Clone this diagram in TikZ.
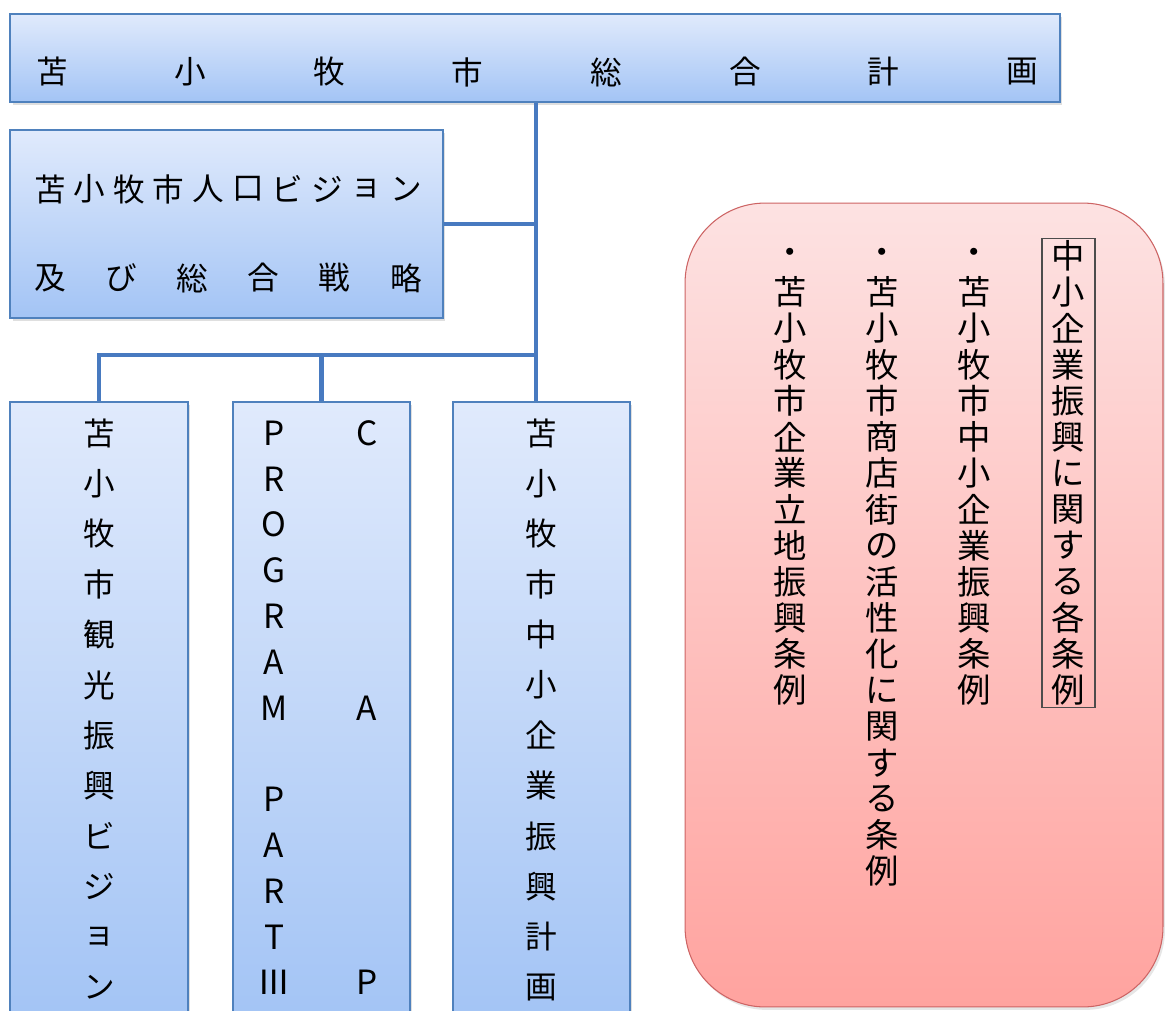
\documentclass[tikz,border=0pt]{standalone}
\usepackage{fontspec}
\setmainfont{Noto Sans CJK JP}
\usetikzlibrary{shadows}
\definecolor{boxTop}{RGB}{224,234,252}
\definecolor{boxBot}{RGB}{163,196,245}
\definecolor{boxLine}{RGB}{79,129,189}
\definecolor{linkBlue}{RGB}{72,122,192}
\definecolor{pinkTop}{RGB}{253,226,226}
\definecolor{pinkBot}{RGB}{255,163,159}
\definecolor{pinkLine}{RGB}{205,100,100}
\begin{document}
\begin{tikzpicture}[x=0.02cm, y=-0.02cm,
    bluebox/.style={draw=boxLine, line width=0.8pt, top color=boxTop, bottom color=boxBot,
      inner sep=0pt, drop shadow={opacity=0.25, shadow xshift=0.5mm, shadow yshift=-0.6mm}},
    redbox/.style={draw=pinkLine, line width=0.6pt, top color=pinkTop, bottom color=pinkBot,
      rounded corners=1.6cm, inner sep=0pt, drop shadow={opacity=0.2, shadow xshift=0.4mm, shadow yshift=-0.6mm}},
    titlebox/.style={draw=black!70, line width=0.6pt, inner sep=0pt},
    link/.style={draw=linkBlue, line width=2.8pt},
    glyph/.style={inner sep=0pt, font=\fontsize{18}{18}\selectfont},
    bigglyph/.style={inner sep=0pt, font=\fontsize{19}{19}\selectfont},
    latin/.style={inner sep=0pt, font=\fontsize{19}{19}\selectfont}]
  \useasboundingbox (0,0) rectangle (1165,1010);
  \clip (0,0) rectangle (1165,1010);
  \newcommand{\spreadText}[7]{
    % places one character after the other
    % args:
    %     style
    %     name prefix
    %     x, y of the first character (px)
    %     step in x, step in y (px)
    %     list of characters
    \foreach \ch [count=\k from 0] in {#7} {
      \node[#1] (#2_\k) at (#3 + \k*#5, #4 + \k*#6) {\ch};
    }
  }
  %
  % boxes
  \node[bluebox, minimum width=21cm, minimum height=1.76cm] (plan) at (535,58) {};
  \node[bluebox, minimum width=8.66cm, minimum height=3.76cm] (vision) at (226.5,224) {};
  \node[bluebox, minimum width=3.56cm, minimum height=12.36cm] (tour) at (99,711) {};
  \node[bluebox, minimum width=3.54cm, minimum height=12.36cm] (cap) at (321.5,711) {};
  \node[bluebox, minimum width=3.54cm, minimum height=12.36cm] (smb) at (541.5,711) {};
  \node[redbox, minimum width=9.56cm, minimum height=16.08cm] (jorei) at (924,605) {};
  \node[titlebox, minimum width=1.06cm, minimum height=9.4cm] (joreiTitle) at (1068.5,473) {};
  %
  % connectors
  \coordinate (bus) at (536,355);
  \draw[link] (bus |- plan.south) -- (bus |- smb.north);
  \draw[link] (vision.east) -- (vision.east -| bus);
  \draw[link] (bus) -| (tour.north);
  \draw[link] (bus -| cap.north) -- (cap.north);
  %
  % texts, horizontal
  \spreadText{glyph}{plan}{52}{72}{138.6}{0}{苫,小,牧,市,総,合,計,画}
  \spreadText{glyph}{visionA}{50}{189}{39.6}{0}{苫,小,牧,市,人,口,ビ,ジ,ョ,ン}
  \spreadText{glyph}{visionB}{50}{278}{71.2}{0}{及,び,総,合,戦,略}
  % texts, vertical
  \spreadText{glyph}{tour}{99}{433}{0}{50.4}{苫,小,牧,市,観,光,振,興,ビ,ジ,ョ,ン}
  \spreadText{latin}{prog}{274}{433}{0}{45.8}{P,R,O,G,R,A,M}
  \spreadText{latin}{part}{274}{799.4}{0}{45.8}{P,A,R,T,Ⅲ}
  \spreadText{latin}{capp}{367}{433}{0}{274.8}{C,A,P}
  \spreadText{glyph}{smb}{541}{433}{0}{50.4}{苫,小,牧,市,中,小,企,業,振,興,計,画}
  % ordinances
  \spreadText{bigglyph}{title}{1068}{256}{0}{36.2}{中,小,企,業,振,興,に,関,す,る,各,条,例}
  \spreadText{bigglyph}{rule1}{974}{256}{0}{36.2}{・,苫,小,牧,市,中,小,企,業,振,興,条,例}
  \spreadText{bigglyph}{rule2}{882}{256}{0}{36.2}{・,苫,小,牧,市,商,店,街,の,活,性,化,に,関,す,る,条,例}
  \spreadText{bigglyph}{rule3}{790}{256}{0}{36.2}{・,苫,小,牧,市,企,業,立,地,振,興,条,例}
\end{tikzpicture}
\end{document}
